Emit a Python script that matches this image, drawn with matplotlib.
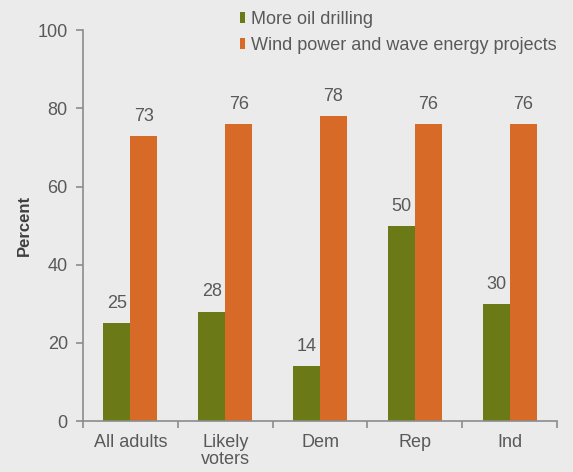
import numpy as np
import matplotlib.pyplot as plt

categories = ['All adults', 'Likely\nvoters', 'Dem', 'Rep', 'Ind']
oil = [25, 28, 14, 50, 30]
wind = [73, 76, 78, 76, 76]
series_names = ['More oil drilling', 'Wind power and wave energy projects']

bg = '#ebebeb'
txt = '#595959'
green = '#6b7a17'
orange = '#d86a27'
fs = 13

plt.rcParams['font.family'] = ['Liberation Sans', 'DejaVu Sans']

fig = plt.figure(figsize=(5.73, 4.72), dpi=100, facecolor=bg)
ax = fig.add_axes([0.145, 0.108, 0.827, 0.828], facecolor=bg)

x = np.arange(len(categories))
w = 0.285
b1 = ax.bar(x - w / 2, oil, w, color=green, label=series_names[0])
b2 = ax.bar(x + w / 2, wind, w, color=orange, label=series_names[1])

for bars in (b1, b2):
    for r in bars:
        ax.annotate(f'{r.get_height():.0f}', (r.get_x() + r.get_width() / 2, r.get_height()),
                    xytext=(0, 8), textcoords='offset points', ha='center', va='bottom',
                    fontsize=fs, color=txt)

ax.set_xlim(-0.5, len(categories) - 0.5)
ax.set_ylim(0, 100)
ax.set_yticks(range(0, 101, 20))
ax.set_xticks(x)
ax.set_xticklabels(categories, fontsize=fs, color=txt, linespacing=1.05)
ax.set_xticks(np.arange(-0.5, len(categories)), minor=True)
ax.tick_params(axis='x', which='major', length=0, pad=9)
ax.tick_params(axis='x', which='minor', length=5, width=1.2, color='#8c8c8c', direction='out')
ax.tick_params(axis='y', length=5, width=1.2, color='#8c8c8c', labelsize=fs,
               labelcolor=txt, pad=6)

for s in ('top', 'right'):
    ax.spines[s].set_visible(False)
for s in ('left', 'bottom'):
    ax.spines[s].set_color('#8c8c8c')
    ax.spines[s].set_linewidth(1.2)

ax.set_ylabel('Percent', fontsize=12, fontweight='bold', color='#404040', labelpad=4)

fig.legend(loc='upper left', bbox_to_anchor=(0.406, 0.992), frameon=False,
           fontsize=fs, labelcolor=txt, handlelength=0.3, handleheight=0.55,
           handletextpad=0.3, labelspacing=0.5, borderaxespad=0)

fig.savefig('out.png', dpi=100, facecolor=bg)
